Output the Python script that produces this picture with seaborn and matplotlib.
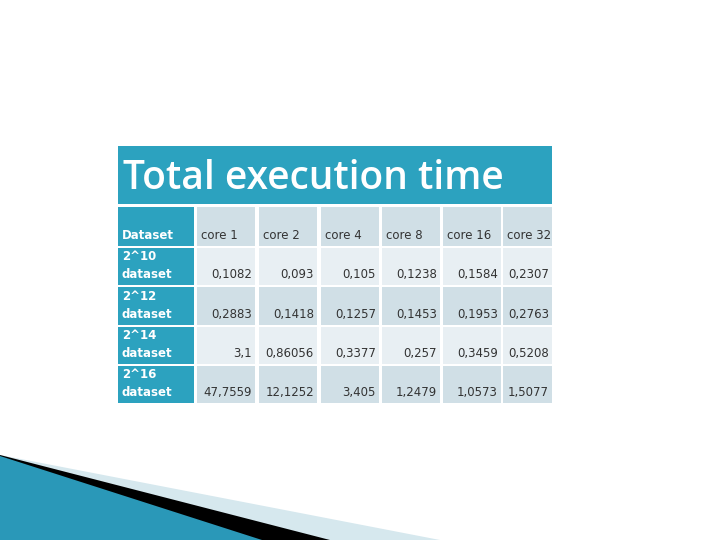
import matplotlib
matplotlib.use("Agg")
import matplotlib.pyplot as plt
import seaborn as sns
from matplotlib.patches import Rectangle, Polygon

sns.set_style("white")
plt.rcParams['font.family'] = ['DejaVu Sans']

title = "Total execution time"
columns = ["core 1", "core 2", "core 4", "core 8", "core 16", "core 32"]
datasets = ["2^10\ndataset", "2^12\ndataset", "2^14\ndataset", "2^16\ndataset"]
values = [
    ["0,1082", "0,093", "0,105", "0,1238", "0,1584", "0,2307"],
    ["0,2883", "0,1418", "0,1257", "0,1453", "0,1953", "0,2763"],
    ["3,1", "0,86056", "0,3377", "0,257", "0,3459", "0,5208"],
    ["47,7559", "12,1252", "3,405", "1,2479", "1,0573", "1,5077"],
]

teal = "#2ca2bf"
light = "#e8eff3"
dark = "#d0dfe6"

fig = plt.figure(figsize=(7.2, 5.4), dpi=100)
ax = fig.add_axes([0, 0, 1, 1])
ax.set_xlim(0, 720)
ax.set_ylim(540, 0)
ax.axis("off")

# decorative wedge bottom-left
ax.add_patch(Polygon([(0, 455), (440, 540), (0, 540)], color="#d6e8ee", lw=0))
ax.add_patch(Polygon([(0, 455), (330, 540), (0, 540)], color="black", lw=0))
ax.add_patch(Polygon([(0, 456), (262, 540), (0, 540)], color="#2a98b8", lw=0))

# title bar
ax.add_patch(Rectangle((118, 146), 434, 58, color=teal, lw=0))
ax.text(123, 179, title, color="white", fontsize=28, va="center", ha="left",
        fontweight="semibold", family=["Open Sans", "DejaVu Sans"])

col_x = [(118, 194), (197, 255), (259, 317), (321, 379), (382, 440), (443, 501), (503, 552)]
row_y = [(207, 246), (248, 285), (287, 325), (327, 364), (366, 403)]

for r, (y0, y1) in enumerate(row_y):
    for c, (x0, x1) in enumerate(col_x):
        if c == 0:
            fc = teal
        elif r == 0:
            fc = dark
        else:
            fc = light if r % 2 == 1 else dark
        ax.add_patch(Rectangle((x0, y0), x1 - x0, y1 - y0, color=fc, lw=0))

ax.text(122, 242, "Dataset", color="white", fontsize=8.5, fontweight="bold", va="bottom")
for c, name in enumerate(columns):
    ax.text(col_x[c + 1][0] + 4, 242, name, color="#333333", fontsize=8.5, va="bottom")

for r, lab in enumerate(datasets):
    y1 = row_y[r + 1][1]
    ax.text(122, y1 - 4, lab, color="white", fontsize=8.5, fontweight="bold", va="bottom",
            linespacing=1.5)
    for c, v in enumerate(values[r]):
        ax.text(col_x[c + 1][1] - 3, y1 - 4, v, color="#333333", fontsize=8.5,
                va="bottom", ha="right")

fig.savefig("out.png", dpi=100)
